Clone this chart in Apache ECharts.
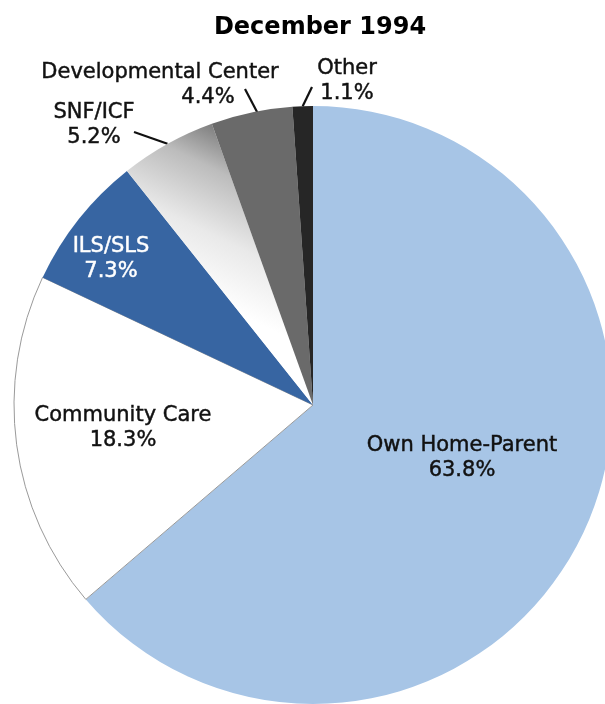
<!DOCTYPE html>
<html>
<head>
<meta charset="utf-8">
<script src="https://cdn.jsdelivr.net/npm/echarts@6/dist/echarts.min.js"></script>
<style>
  html, body { margin: 0; padding: 0; background: #ffffff; }
  #chart { width: 605px; height: 704px; }
</style>
</head>
<body>
<div id="chart"></div>
<script>
// Residence of consumers, December 1994 (percent of total)
const categories = ['Own Home-Parent', 'Community Care', 'ILS/SLS', 'SNF/ICF', 'Developmental Center', 'Other'];
const shares = [63.8, 18.3, 7.3, 5.2, 4.4, 1.1];

// Slice fills
const sliceColors = [
  '#a7c5e6',
  '#ffffff',
  '#3765a2',
  { type: 'linear', x: 0.6, y: 0, x2: 0.2, y2: 0.55,
    colorStops: [
      { offset: 0, color: '#6c6c6c' },
      { offset: 0.3, color: '#bcbcbc' },
      { offset: 0.65, color: '#e9e9e9' },
      { offset: 1, color: '#ffffff' }
    ] },
  '#6a6a6a',
  '#262626'
];

// Where each label sits; outside labels also give the end of their leader line
const labelSpots = [
  { x: 462, y: 458 },
  { x: 123, y: 428 },
  { x: 111, y: 259 },
  { x: 94, y: 125, lineEnd: [134, 132] },
  { x: 160, y: 85, lineEnd: [245, 89], anchorShift: [9, 6] },
  { x: 347, y: 81, lineEnd: [312, 87] }
];
const outsideLabel = [false, false, false, true, true, true];
const labelColors = ['#111', '#111', '#ffffff', '#111', '#111', '#111'];

const FONT = 'DejaVu Sans';

const chart = echarts.init(document.getElementById('chart'), null, { renderer: 'canvas' });

const data = categories.map((name, i) => ({
  name: name,
  value: shares[i],
  itemStyle: {
    color: sliceColors[i],
    borderColor: i === 1 ? '#9a9a9a' : 'rgba(0,0,0,0)',
    borderWidth: i === 1 ? 1 : 0
  },
  label: {
    position: outsideLabel[i] ? 'outside' : 'inside',
    color: labelColors[i],
    textBorderColor: labelColors[i],
    textBorderWidth: 0.45,
    formatter: i === 4
      ? (p) => '{n|' + p.name + '}\n{off|' + p.value.toFixed(1) + '%}'
      : (p) => '{n|' + p.name + '}\n{n|' + p.value.toFixed(1) + '%}'
  },
  labelLine: { show: outsideLabel[i] }
}));

chart.setOption({
  animation: false,
  backgroundColor: '#ffffff',
  title: {
    text: 'December 1994',
    left: 315,
    textAlign: 'center',
    top: 11,
    textStyle: { fontFamily: FONT, fontWeight: 'bold', fontSize: 24, color: '#000' }
  },
  series: [{
    type: 'pie',
    center: [313, 405],
    radius: 299,
    startAngle: 90,
    clockwise: true,
    avoidLabelOverlap: false,
    emphasis: { disabled: true },
    label: {
      show: true,
      fontFamily: FONT,
      fontSize: 21,
      align: 'center',
      rich: {
        n: { fontFamily: FONT, fontSize: 21, lineHeight: 25 },
        off: { fontFamily: FONT, fontSize: 21, lineHeight: 25, padding: [0, 0, 0, 96] }
      }
    },
    labelLine: {
      show: false,
      lineStyle: { color: '#111', width: 2.2 }
    },
    labelLayout: function (params) {
      const spot = labelSpots[params.dataIndex];
      const out = { x: spot.x, y: spot.y, align: 'center', verticalAlign: 'middle' };
      if (spot.lineEnd && params.labelLinePoints) {
        const a = params.labelLinePoints[0];
        const shift = spot.anchorShift || [0, 0];
        const start = [a[0] + shift[0], a[1] + shift[1]];
        out.labelLinePoints = [start, spot.lineEnd, spot.lineEnd];
      }
      return out;
    },
    data: data
  }]
});
</script>
</body>
</html>
